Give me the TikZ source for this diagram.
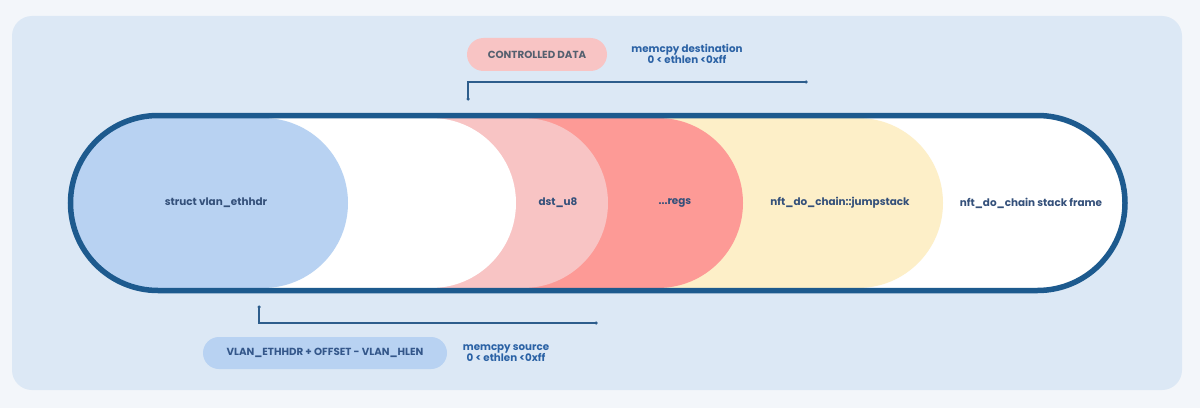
\documentclass[tikz,border=0pt]{standalone}
\usepackage{fontspec}
\setmainfont{Poppins}
\begin{document}
\begin{tikzpicture}[x=1pt,y=1pt,
  lbl/.style={font=\fontsize{10.4}{12}\selectfont\bfseries, text=labelc, inner sep=0pt},
  pilltxt/.style={font=\fontsize{10.3}{12}\selectfont\bfseries, inner sep=0pt},
  note/.style={font=\fontsize{10.3}{11}\selectfont\bfseries, text=notec, align=center, inner sep=0pt},
  bracket/.style={draw=brk, line width=1.8pt},
  enddot/.style={circle, fill=brk, inner sep=0pt, minimum size=4pt}]
\definecolor{pagebg}{HTML}{F3F6FA}
\definecolor{panel}{HTML}{DCE8F5}
\definecolor{capsule}{HTML}{1D5A8E}
\definecolor{segblue}{HTML}{B8D2F2}
\definecolor{segpink}{HTML}{F8C4C4}
\definecolor{segred}{HTML}{FD9A96}
\definecolor{segyellow}{HTML}{FDEFC8}
\definecolor{labelc}{HTML}{34507A}
\definecolor{notec}{HTML}{2B62A5}
\definecolor{brk}{HTML}{2D5D8C}
\definecolor{greytxt}{HTML}{55606F}
\definecolor{bluetxt}{HTML}{34578A}

\useasboundingbox (0,0) rectangle (1200,408);
\fill[pagebg] (0,0) rectangle (1200,408);
\fill[panel, rounded corners=20pt] (12,18) rectangle (1182,392);

% capsule interior and segments
\begin{scope}
  \clip (158,292.5) -- (1037.5,292.5) arc[start angle=90,end angle=-90,radius=87.5]
        -- (158,117.5) arc[start angle=270,end angle=90,radius=87.5] -- cycle;
  \fill[white] (40,100) rectangle (1160,310);
  \fill[segyellow] (40,290) -- (858,290) arc[start angle=90,end angle=-90,radius=85] -- (40,120) -- cycle;
  \fill[segred] (40,290) -- (658,290) arc[start angle=90,end angle=-90,radius=85] -- (40,120) -- cycle;
  \fill[segpink] (40,290) -- (523,290) arc[start angle=90,end angle=-90,radius=85] -- (40,120) -- cycle;
  \fill[white] (40,290) -- (431,290) arc[start angle=90,end angle=-90,radius=85] -- (40,120) -- cycle;
  \fill[segblue] (40,290) -- (263,290) arc[start angle=90,end angle=-90,radius=85] -- (40,120) -- cycle;
\end{scope}
\draw[capsule, line width=5.5pt] (158,292.5) -- (1037.5,292.5) arc[start angle=90,end angle=-90,radius=87.5]
        -- (158,117.5) arc[start angle=270,end angle=90,radius=87.5] -- cycle;

% segment labels
\node[lbl] (hdr) at (216,205) {struct vlan\_ethhdr};
\node[lbl] (dst) at (558,205) {dst\_u8};
\node[lbl] (regs) at (675,205) {...regs};
\node[lbl] (jump) at (840,205) {nft\_do\_chain::jumpstack};
\node[lbl] (frame) at (1031,205) {nft\_do\_chain stack frame};

% top annotation
\node[pilltxt, text=greytxt, fill=segpink, rounded corners=16.5pt, minimum width=140pt, minimum height=33pt] (ctrl) at (537,353.5) {CONTROLLED DATA};
\node[note] (dstnote) at (687,354.5) {memcpy destination\\0 < ethlen <0xff};
\coordinate (t1) at (468,309);
\coordinate (t2) at (468,326);
\coordinate (t3) at (806,326);
\draw[bracket] (t1) -- (t2) -- (t3);
\node[enddot, minimum size=3.5pt] at (t1) {};
\node[enddot, minimum size=3.5pt] at (t3) {};

% bottom annotation
\node[pilltxt, text=bluetxt, fill=segblue, rounded corners=16pt, minimum width=244pt, minimum height=32pt] (src) at (325,55) {VLAN\_ETHHDR + OFFSET - VLAN\_HLEN};
\node[note] (srcnote) at (506,55) {memcpy source\\0 < ethlen <0xff};
\coordinate (b1) at (259,101);
\coordinate (b2) at (259,85);
\coordinate (b3) at (596,85);
\draw[bracket] (b1) -- (b2) -- (b3);
\node[enddot, minimum size=3.5pt] at (b1) {};
\node[enddot, minimum size=3.5pt] at (b3) {};
\end{tikzpicture}
\end{document}
